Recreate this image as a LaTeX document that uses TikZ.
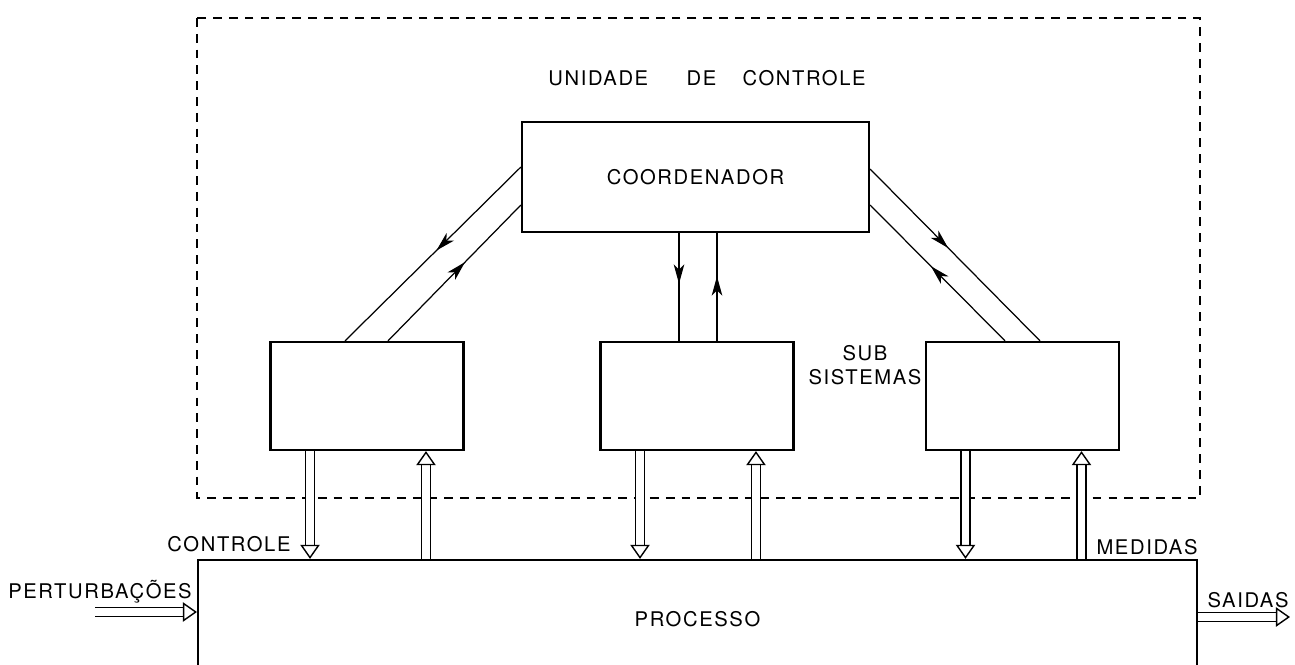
\documentclass[tikz,border=0pt]{standalone}
\usepackage{fontspec}
\newfontfamily\lblfont{TeX Gyre Heros}[LetterSpace=8]
\usetikzlibrary{arrows.meta,decorations.markings,positioning}

\begin{document}
\begin{tikzpicture}[
    x=0.02cm,
    y=-0.02cm,
    every node/.style={font=\lblfont\fontsize{11.5}{14}\selectfont},
    block/.style={draw, line width=1.3pt, inner sep=0pt},
    subbox/.style={block, minimum width=3.86cm, minimum height=2.16cm},
    unitline/.style={line width=0.8pt, dash pattern=on 5pt off 4pt},
    signal/.style={line width=0.7pt, postaction={decorate},
      decoration={markings, mark=at position #1 with {\arrow{Stealth[length=11pt,width=6pt,inset=3pt]}}}},
    signal/.default=0.5,
    hollow/.style={double, line width=0.8pt, double distance=4.5pt,
      -{Triangle[open, length=8pt, width=11pt]}}
  ]
    \useasboundingbox (0,0) rectangle (1295,665);

    % control unit
    \draw[unitline] (197,18) rectangle (1200,498);
    \node (title) at (707,78) {UNIDADE\hspace{1.9em}DE\hspace{1.3em}CONTROLE};

    \node[block, minimum width=6.94cm, minimum height=2.2cm] (coord) at (695.5,177) {COORDENADOR};
    \node[subbox] (sub1) at (367,396) {};
    \node[subbox] (sub2) at (697,396) {};
    \node[subbox] (sub3) at (1022.5,396) {};
    \node[align=center] (subsys) at (865,365) {SUB\\SISTEMAS};

    \node[block, minimum width=19.98cm, minimum height=2.36cm] (proc) at (697.5,619) {PROCESSO};

    % coordination
    \draw[signal=0.48] ([yshift=0.2cm]coord.west) -- ([xshift=-0.44cm]sub1.north);
    \draw[signal=0.58] ([xshift=0.42cm]sub1.north) -- ([yshift=-0.56cm]coord.west);
    \draw[signal=0.47] ([xshift=-0.33cm]coord.south) -- ([xshift=-0.33cm]coord.south |- sub2.north);
    \draw[signal=0.6] ([xshift=0.43cm]coord.south |- sub2.north) -- ([xshift=0.43cm]coord.south);
    \draw[signal=0.46] ([yshift=0.16cm]coord.east) -- ([xshift=0.35cm]sub3.north);
    \draw[signal=0.55] ([xshift=-0.35cm]sub3.north) -- ([yshift=-0.56cm]coord.east);

    % control and measures
    \foreach \s in {sub1,sub2,sub3} {
      \draw[hollow] ([xshift=-1.14cm]\s.south) -- ([xshift=-1.14cm]\s.south |- proc.north);
      \draw[hollow] ([xshift=1.18cm]\s.south |- proc.north) -- ([xshift=1.18cm]\s.south);
    }
    \node (ctrl) at (229,544) {CONTROLE};
    \node (meas) at (1147,547) {MEDIDAS};

    % inputs and outputs
    \coordinate (pin) at (95,612);
    \coordinate (pout) at (1290,617);
    \draw[hollow] (pin) -- (pin -| proc.west);
    \draw[hollow] (pout -| proc.east) -- (pout);
    \node (pert) at (100,592) {PERTURBAÇÕES};
    \node (outs) at (1248,600) {SAIDAS};
  \end{tikzpicture}
\end{document}
